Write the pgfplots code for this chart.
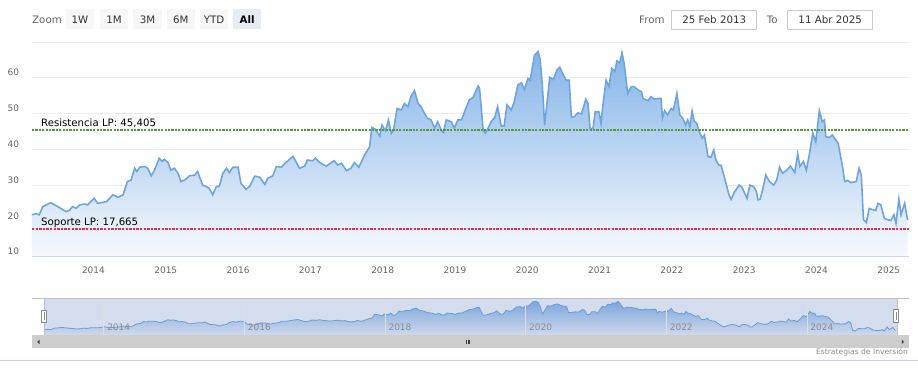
\documentclass[border=0pt]{standalone}
\usepackage{fontspec}
\setmainfont{DejaVu Sans}
\usepackage{pgfplots}
\pgfplotsset{compat=1.18}
\usepackage{pgfplotstable}
\newcommand\fs[1]{\fontsize{#1}{#1}\selectfont}
\definecolor{lineblue}{RGB}{111,165,222}
\definecolor{areatop}{RGB}{133,180,232}
\definecolor{areabot}{RGB}{247,250,253}
\definecolor{gridgray}{RGB}{236,236,236}
\definecolor{axisblue}{RGB}{204,214,235}
\definecolor{tickgray}{RGB}{102,102,102}
\definecolor{navgray}{RGB}{140,140,140}
\definecolor{resgreen}{RGB}{80,155,60}
\definecolor{supportred}{RGB}{235,45,75}
\definecolor{navmask}{RGB}{102,133,194}
\definecolor{btnfill}{RGB}{247,247,247}
\definecolor{btnsel}{RGB}{230,235,245}
\definecolor{textdark}{RGB}{51,51,51}
\definecolor{scrollgray}{RGB}{205,205,205}
\definecolor{sepline}{RGB}{204,208,228}
\definecolor{outline}{RGB}{190,190,200}

\pgfplotstableread{
t v
2013.14 21.7
2013.21 22.0
2013.25 21.7
2013.30 24.0
2013.35 24.5
2013.41 25.1
2013.46 24.5
2013.53 23.7
2013.62 22.6
2013.67 23.0
2013.71 24.0
2013.76 23.5
2013.81 24.5
2013.88 24.7
2013.92 24.5
2014.01 26.3
2014.06 24.9
2014.11 25.1
2014.18 25.4
2014.27 27.3
2014.34 26.6
2014.41 27.3
2014.47 31.0
2014.52 31.4
2014.57 34.7
2014.60 33.8
2014.64 35.0
2014.71 35.2
2014.75 34.7
2014.80 32.6
2014.84 34.0
2014.91 37.5
2014.95 36.6
2014.98 37.2
2015.03 36.3
2015.07 34.2
2015.12 34.7
2015.17 33.3
2015.21 31.0
2015.26 31.4
2015.33 32.6
2015.40 32.8
2015.44 33.8
2015.51 30.0
2015.56 29.6
2015.60 29.1
2015.65 27.3
2015.70 29.6
2015.74 29.6
2015.79 33.3
2015.84 34.7
2015.88 33.5
2015.93 35.0
2016.00 35.0
2016.04 30.5
2016.11 28.8
2016.16 29.6
2016.23 32.5
2016.30 32.2
2016.37 30.2
2016.41 31.9
2016.48 32.6
2016.53 35.2
2016.60 35.0
2016.66 36.3
2016.76 38.0
2016.80 36.6
2016.85 34.7
2016.92 35.3
2016.96 37.0
2017.03 36.8
2017.07 37.5
2017.13 36.3
2017.22 35.3
2017.29 36.3
2017.33 36.8
2017.38 35.6
2017.43 36.1
2017.50 34.0
2017.56 34.7
2017.61 36.3
2017.67 35.0
2017.75 38.4
2017.82 40.7
2017.85 46.1
2017.90 45.6
2017.96 43.7
2017.99 46.8
2018.04 45.2
2018.08 48.2
2018.12 44.5
2018.15 45.4
2018.20 51.4
2018.26 51.0
2018.30 52.8
2018.35 51.9
2018.39 54.7
2018.44 56.4
2018.49 52.8
2018.53 51.9
2018.58 50.0
2018.62 48.7
2018.67 48.2
2018.72 45.9
2018.76 47.7
2018.81 45.4
2018.84 44.7
2018.88 48.2
2018.95 47.7
2018.99 45.9
2019.04 48.2
2019.09 48.2
2019.15 51.4
2019.20 53.8
2019.25 54.5
2019.32 57.7
2019.34 57.0
2019.39 45.4
2019.42 44.5
2019.45 45.6
2019.50 47.7
2019.55 48.9
2019.59 51.9
2019.64 46.5
2019.68 46.5
2019.72 52.4
2019.78 51.0
2019.82 53.3
2019.87 58.0
2019.92 58.6
2019.96 56.7
2020.01 59.8
2020.04 59.3
2020.10 66.3
2020.15 67.3
2020.18 64.9
2020.21 57.5
2020.24 46.8
2020.27 52.4
2020.31 60.1
2020.36 59.5
2020.41 62.1
2020.45 62.9
2020.50 60.7
2020.54 59.3
2020.58 59.3
2020.61 48.9
2020.65 49.1
2020.70 50.2
2020.75 49.9
2020.78 51.9
2020.81 54.0
2020.84 52.8
2020.87 45.6
2020.91 45.9
2020.94 50.5
2020.99 50.5
2021.02 47.3
2021.05 52.8
2021.09 59.3
2021.13 57.5
2021.17 62.6
2021.21 61.7
2021.24 64.7
2021.28 64.2
2021.31 67.0
2021.34 64.0
2021.39 55.6
2021.44 57.5
2021.48 57.5
2021.53 56.6
2021.58 56.1
2021.60 54.2
2021.67 53.6
2021.71 54.7
2021.76 54.0
2021.81 54.2
2021.85 54.2
2021.87 48.7
2021.90 50.8
2021.94 49.6
2021.99 51.4
2022.02 50.9
2022.07 55.6
2022.11 49.6
2022.15 48.7
2022.19 46.8
2022.22 48.2
2022.25 46.3
2022.28 50.7
2022.31 47.7
2022.34 47.4
2022.38 44.9
2022.42 43.1
2022.45 44.0
2022.50 38.0
2022.54 37.8
2022.58 39.8
2022.61 37.0
2022.65 35.6
2022.68 35.6
2022.73 31.9
2022.79 27.3
2022.82 26.0
2022.87 28.2
2022.93 30.0
2022.97 29.4
2023.04 26.3
2023.08 30.0
2023.13 29.6
2023.17 28.2
2023.19 25.9
2023.22 26.0
2023.26 29.1
2023.30 32.8
2023.35 31.0
2023.41 30.0
2023.45 31.4
2023.49 35.0
2023.53 33.3
2023.58 34.0
2023.64 35.3
2023.70 33.5
2023.74 38.7
2023.77 35.2
2023.82 36.6
2023.86 34.2
2023.90 38.4
2023.95 44.5
2023.99 42.1
2024.04 50.8
2024.08 47.7
2024.11 48.2
2024.13 43.5
2024.18 43.3
2024.22 44.0
2024.25 43.1
2024.30 41.7
2024.36 35.2
2024.39 31.0
2024.43 31.3
2024.48 30.7
2024.55 31.0
2024.59 34.7
2024.62 32.8
2024.65 20.3
2024.69 19.5
2024.73 23.5
2024.78 23.1
2024.82 22.9
2024.85 24.9
2024.89 24.5
2024.94 20.7
2024.99 20.3
2025.03 20.1
2025.07 21.7
2025.10 19.3
2025.14 26.1
2025.17 21.7
2025.22 24.9
2025.26 20.3
}\mainTable

\begin{document}
\begin{tikzpicture}
\useasboundingbox (0,0) rectangle (918bp,377bp);
\fill[white] (0,0) rectangle (918bp,377bp);

% ---------- main chart ----------
\begin{axis}[
  at={(32bp,120.3bp)}, anchor=south west,
  scale only axis, width=877bp, height=214.8bp,
  xmin=2013.15, xmax=2025.28, ymin=10, ymax=70,
  axis line style={draw=none},
  major tick length=0pt, tick style={draw=none},
  xtick={2014,2015,2016,2017,2018,2019,2020,2021,2022,2023,2024,2025},
  xticklabels={2014,2015,2016,2017,2018,2019,2020,2021,2022,2023,2024,2025},
  ytick={10,20,30,40,50,60,70},
  yticklabels={10,20,30,40,50,60,{}},
  tick label style={font=\fs{9}, text=tickgray, inner sep=0pt},
  xticklabel style={anchor=north, yshift=-10bp},
  yticklabel style={anchor=east, xshift=-12.7bp, yshift=5bp},
  ymajorgrids, grid style={draw=gridgray, line width=0.8bp},
  clip=true,
]
\addplot[draw=none, top color=areatop, bottom color=areabot] table {\mainTable} |- (2013.15,10) -- cycle;
\addplot[draw=lineblue, line width=1.6bp] table {\mainTable};
\addplot[draw=resgreen, line width=1.5bp, dash pattern=on 2.2bp off 1.2bp] coordinates {(2013.15,45.405) (2025.28,45.405)};
\addplot[draw=supportred, line width=1.6bp, dash pattern=on 2.4bp off 1.2bp] coordinates {(2013.15,17.665) (2025.28,17.665)};
\draw[axisblue, line width=0.9bp] (rel axis cs:0,0) -- (rel axis cs:1,0);
\end{axis}

% ---------- navigator ----------
\begin{axis}[
  at={(44bp,42bp)}, anchor=south west,
  scale only axis, width=853bp, height=36.7bp,
  xmin=2013.15, xmax=2025.28, ymin=13, ymax=72,
  axis on top=true,
  axis line style={draw=none},
  major tick length=0pt, tick style={draw=none},
  xtick={2014,2016,2018,2020,2022,2024},
  xticklabels={2014,2016,2018,2020,2022,2024},
  ytick=\empty,
  xticklabel style={font=\fs{9}, text=navgray, inner sep=0pt, anchor=west, xshift=3.3bp, yshift=7.3bp},
  xmajorgrids, grid style={draw=black!13, line width=0.6bp},
]
\addplot[draw=none, top color=areatop, bottom color=areabot] table {\mainTable} |- (2013.15,13) -- cycle;
\addplot[draw=lineblue, line width=0.8bp] table {\mainTable};
\fill[navmask, opacity=0.28] (rel axis cs:0,0) rectangle (rel axis cs:1,1);
\end{axis}

% ---------- decorations (pixel coordinates, y downward) ----------
\begin{scope}[x=1bp, y=-1bp, yshift=377bp]
  % zoom buttons
  \node[anchor=west, inner sep=0pt, text=tickgray, font=\fs{10.3}] at (32,19.4) {Zoom};
  \foreach \a/\b/\t in {65.7/94.3/1W, 100/128.3/1M, 133.3/161.7/3M, 166.7/195/6M, 200/228.3/YTD}{
    \fill[btnfill] (\a,9.3) rectangle (\b,29.3);
    \node[inner sep=0pt, text=textdark, font=\fs{10.3}] at ({(\a+\b)/2},19.4) {\t};
  }
  \fill[btnsel] (233.3,9.3) rectangle (261,29.3);
  \node[inner sep=0pt, text=black, font=\fs{10.3}\bfseries] at (247.2,19.4) {All};
  % date range inputs
  \node[anchor=west, inner sep=0pt, text=tickgray, font=\fs{10.3}] at (639,19.4) {From};
  \draw[black!20, fill=white, line width=0.8bp] (671.7,10) rectangle (756.7,29.3);
  \node[inner sep=0pt, text=textdark, font=\fs{10.3}] at (714.2,19.6) {25 Feb 2013};
  \node[anchor=west, inner sep=0pt, text=tickgray, font=\fs{10.3}] at (766.7,19.4) {To};
  \draw[black!20, fill=white, line width=0.8bp] (787.7,10) rectangle (872.7,29.3);
  \node[inner sep=0pt, text=textdark, font=\fs{10.3}] at (830.2,19.6) {11 Abr 2025};

  % level labels
  \node[anchor=base west, inner sep=0pt, text=black, font=\fs{10.2}] at (41,126.7) {Resistencia LP: 45,405};
  \node[anchor=base west, inner sep=0pt, text=black, font=\fs{10.2}] at (41,226) {Soporte LP: 17,665};

  % navigator outline
  \draw[outline, line width=0.8bp] (32,298.3) -- (909,298.3);
  \draw[outline, line width=0.8bp] (44,298.3) -- (44,335);
  \draw[outline, line width=0.8bp] (897,298.3) -- (897,335);
  % handles
  \draw[black!45, fill=white, line width=0.7bp] (41,310) rectangle (46.7,322.7);
  \draw[black!45, line width=0.6bp] (43.85,312.5) -- (43.85,320.2);
  \draw[black!45, fill=white, line width=0.7bp] (893,309.8) rectangle (898.8,322.7);
  \draw[black!45, line width=0.6bp] (895.9,312.3) -- (895.9,320.2);

  % scrollbar
  \fill[scrollgray] (32,335) rectangle (909,348.3);
  \fill[black!75] (39.5,339.8) -- (39.5,344) -- (37.2,341.9) -- cycle;
  \fill[black!75] (901.8,339.8) -- (901.8,344) -- (904.1,341.9) -- cycle;
  \foreach \g in {466.2,467.9,469.6}{\draw[black!75, line width=0.7bp] (\g,339.6) -- (\g,343.8);}

  % credits
  \node[anchor=east, inner sep=0pt, text=navgray, font=\fs{7.6}] at (908,352.7) {Estrategias de Inversión};
  % bottom separator
  \draw[sepline, line width=1bp] (0,361) -- (918,361);
\end{scope}
\end{tikzpicture}
\end{document}
